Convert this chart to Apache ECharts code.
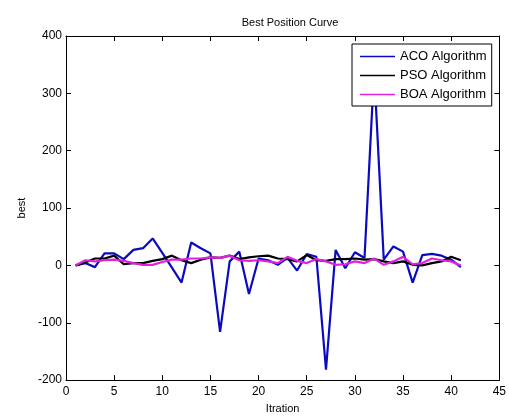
<!DOCTYPE html>
<html><head><meta charset="utf-8">
<script src="https://cdn.jsdelivr.net/npm/echarts@6/dist/echarts.min.js"></script>
<style>html,body{margin:0;padding:0;background:#fff}#c{width:509px;height:419px}</style>
</head><body><div id="c"></div>
<script>
const iterations = [1,2,3,4,5,6,7,8,9,10,11,12,13,14,15,16,17,18,19,20,21,22,23,24,25,26,27,28,29,30,31,32,33,34,35,36,37,38,39,40,41];
const acoValues = [0,4,-3,21,21,11,27,30,47,22,-4,-30,40,30,21,-116,7,24,-50,12,9,1,13,-9,20,15,-182,27,-5,23,13,340,10,33,24,-30,18,20,17,10,-3];
const psoValues = [0,5,12,12,17,2,4,4,8,11,17,9,4,10,14,13,17,11,14,16,17,12,11,7,18,9,8,11,11,12,10,11,7,4,7,1,0,4,7,15,9];
const boaValues = [0,9,7,9,10,8,4,1,1,6,10,10,12,12,14,13,17,9,8,9,7,4,15,8,4,11,7,1,2,7,4,12,1,7,15,2,4,12,9,7,0];
const seriesNames = ['ACO Algorithm','PSO Algorithm','BOA Algorithm'];
const xTicks = {min:0,max:45,interval:5};
const yTicks = {min:-200,max:400,interval:100};

const pairs = v => iterations.map((x,i)=>[x,v[i]]);
const font = 'Liberation Sans, Arial, sans-serif';
const chart = echarts.init(document.getElementById('c'));
const axBase = {
  type:'value', axisLine:{show:true,onZero:false,lineStyle:{color:'#000',width:1}},
  axisTick:{show:true,inside:true,length:5,lineStyle:{color:'#000'}},
  splitLine:{show:false}
};
chart.setOption({
  animation:false,
  backgroundColor:'#fff',
  title:{text:'Best Position Curve',left:285,top:12,textAlign:'center',
    textStyle:{fontSize:11,fontWeight:'normal',color:'#000',fontFamily:font}},
  grid:{left:66,right:6,top:36,bottom:33,containLabel:false},
  legend:{orient:'vertical',left:352,top:44,data:seriesNames,icon:'rect',
    backgroundColor:'#fff',borderColor:'#000',borderWidth:1,borderRadius:0,
    padding:[6,5,5,8],itemWidth:35,itemHeight:1.5,itemGap:6,itemTextGap:8,
    textStyle:{fontSize:13,color:'#000',fontFamily:font}},
  xAxis:[
    Object.assign({},axBase,{position:'bottom',min:xTicks.min,max:xTicks.max,interval:xTicks.interval,
      name:'Itration',nameLocation:'middle',nameGap:22,
      nameTextStyle:{fontSize:11,color:'#000',fontFamily:font},
      axisLabel:{color:'#000',fontSize:12,fontFamily:font,margin:6}}),
    Object.assign({},axBase,{position:'top',min:xTicks.min,max:xTicks.max,interval:xTicks.interval,
      axisLabel:{show:false}})
  ],
  yAxis:[
    Object.assign({},axBase,{position:'left',min:yTicks.min,max:yTicks.max,interval:yTicks.interval,
      name:'best',nameLocation:'middle',nameGap:38,nameRotate:90,
      nameTextStyle:{fontSize:11,color:'#000',fontFamily:font},
      axisLabel:{color:'#000',fontSize:12,fontFamily:font,margin:4}}),
    Object.assign({},axBase,{position:'right',min:yTicks.min,max:yTicks.max,interval:yTicks.interval,
      axisLabel:{show:false}})
  ],
  series:[
    {name:seriesNames[0],type:'line',data:pairs(acoValues),symbol:'none',z:3,
      lineStyle:{color:'#0a0ac0',width:2.2},itemStyle:{color:'#0a0ac0'}},
    {name:seriesNames[1],type:'line',data:pairs(psoValues),symbol:'none',z:4,
      lineStyle:{color:'#000',width:2.2},itemStyle:{color:'#000'}},
    {name:seriesNames[2],type:'line',data:pairs(boaValues),symbol:'none',z:5,
      lineStyle:{color:'#e020e0',width:2.2},itemStyle:{color:'#e020e0'}}
  ]
});
</script></body></html>
